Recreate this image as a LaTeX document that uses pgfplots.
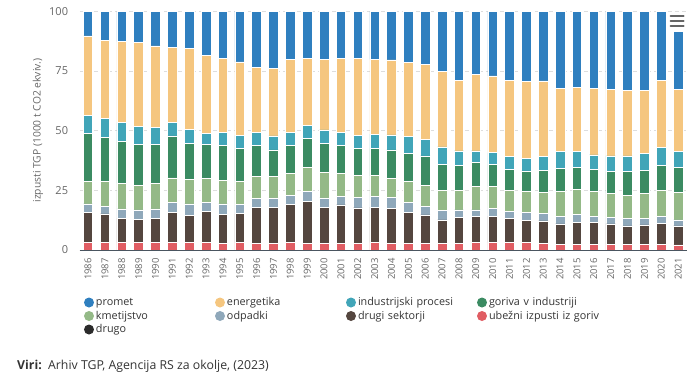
\documentclass[border=0pt]{standalone}
\usepackage{fontspec}
\setmainfont{Open Sans}
\usepackage{pgfplots}
\usepackage{pgfplotstable}
\pgfplotsset{compat=1.18}
\definecolor{cPromet}{HTML}{2F7FBF}
\definecolor{cEner}{HTML}{F5C67F}
\definecolor{cInd}{HTML}{41A5B8}
\definecolor{cGor}{HTML}{3B8B62}
\definecolor{cKmet}{HTML}{94B987}
\definecolor{cOdp}{HTML}{8FA8BA}
\definecolor{cDrugi}{HTML}{54463F}
\definecolor{cUbez}{HTML}{E05D63}
\definecolor{cDrugo}{HTML}{2B2B2B}
\definecolor{tickgray}{HTML}{666666}
\definecolor{legtext}{HTML}{333333}
\definecolor{gridgray}{HTML}{DDDDDD}
\definecolor{axisline}{HTML}{4A5560}

\pgfplotstableread{
year ubez drugi odp kmet gor ind ener prom
1986 3.2 12.6 3.5 9.6 19.8 7.7 33.3 10.3
1987 3.2 11.9 3.3 10.2 18.5 8.1 32.5 12.3
1988 3.2 10.1 3.9 10.7 17.6 7.9 33.9 12.7
1989 3.1 9.7 4.0 10.4 17.1 7.5 35.2 13.0
1990 3.2 9.9 4.1 10.6 16.3 7.4 34.0 14.5
1991 3.1 12.5 4.2 10.4 17.6 5.8 31.3 15.1
1992 3.1 11.3 4.9 10.4 14.9 5.8 34.2 15.4
1993 3.1 13.0 4.0 9.8 14.2 4.9 32.6 18.4
1994 2.8 12.1 4.4 10.0 14.4 5.6 30.9 19.8
1995 3.1 12.1 3.9 9.8 13.8 5.3 30.8 21.2
1996 2.8 15.1 3.7 9.4 12.7 5.5 27.3 23.5
1997 2.8 15.1 3.9 8.9 11.2 5.9 28.3 23.9
1998 3.1 15.9 4.0 9.1 11.6 5.5 30.5 20.3
1999 2.8 17.7 4.1 10.0 12.2 5.3 28.2 19.7
2000 2.8 14.9 4.1 10.6 12.3 5.6 29.6 20.1
2001 2.8 16.1 3.7 9.5 11.6 5.5 31.2 19.6
2002 2.8 14.8 4.5 9.0 11.6 5.3 32.4 19.6
2003 3.1 14.9 4.6 8.5 11.5 5.9 31.4 20.1
2004 2.8 14.7 4.4 8.1 11.9 6.3 31.4 20.4
2005 2.8 13.0 4.2 8.6 11.9 7.0 31.1 21.4
2006 2.8 11.9 3.7 8.8 12.2 7.0 31.4 22.2
2007 2.8 9.8 3.9 8.6 10.9 7.2 31.5 25.3
2008 2.8 10.7 3.3 8.3 10.5 5.9 29.7 28.8
2009 3.1 10.9 2.8 10.0 9.8 4.9 32.2 26.3
2010 3.1 11.1 3.3 9.0 9.4 4.9 32.1 27.1
2011 3.1 10.2 3.0 8.8 8.8 5.2 32.1 28.8
2012 3.1 9.2 3.3 8.8 8.7 5.3 32.1 29.5
2013 2.8 9.4 3.2 8.6 9.5 5.6 31.7 29.2
2014 2.4 8.5 3.3 10.2 9.8 7.0 26.5 32.3
2015 2.4 9.1 3.4 10.5 9.2 6.6 27.0 31.8
2016 2.4 9.1 2.7 10.5 9.1 6.0 27.9 32.3
2017 2.4 8.5 2.8 10.0 9.1 6.6 27.9 32.7
2018 2.4 7.7 3.2 9.7 9.8 6.6 27.6 33.0
2019 2.4 8.1 2.8 10.4 9.8 7.0 26.5 33.0
2020 2.4 8.8 3.0 10.9 10.5 7.3 28.3 28.8
2021 2.1 8.0 2.5 11.4 10.5 6.7 26.1 24.2
}\data

\begin{document}
\begin{tikzpicture}
\path[use as bounding box] (-79.6pt,-132pt) rectangle (620.4pt,250pt);
\begin{axis}[
  at={(0pt,0pt)}, anchor=south west,
  scale only axis, width=607pt, height=238.7pt,
  xmin=1985.5, xmax=2021.5, ymin=0, ymax=100,
  enlargelimits=false,
  ybar stacked, bar width=9.6pt,
  xtick={1986,...,2021},
  ytick={0,25,50,75,100},
  /pgf/number format/.cd, 1000 sep={}, assume math mode=true, /pgfplots/.cd,
  axis x line*=bottom, axis y line*=left,
  y axis line style={draw=none},
  x axis line style={draw=axisline, line width=0.9pt, -},
  ymajorgrids,
  grid style={draw=gridgray, dash pattern=on 4pt off 3pt, line width=0.8pt},
  major tick length=0pt,
  tick style={draw=none},
  xticklabel style={rotate=90, anchor=east, font=\fontsize{9.5}{10}\selectfont, text=tickgray, inner xsep=8pt},
  yticklabel style={font=\fontsize{11}{12}\selectfont, text=tickgray, xshift=-8pt},
  ylabel={izpusti TGP (1000 t CO2 ekviv.)},
  ylabel style={at={(axis description cs:-0.0685,0.5)}, anchor=center, font=\fontsize{10.3}{12}\selectfont, text=tickgray},
  every axis plot/.append style={draw=white, line width=0.7pt},
  legend columns=4,
  reverse legend,
  legend image code/.code={\fill[#1,draw=none] (0pt,0pt) circle (5pt);},
  legend style={at={(axis description cs:0.00725,-0.1917)}, anchor=north west,
    draw=none, fill=none, inner sep=0pt, outer sep=0pt,
    column sep=0pt, row sep=0pt,
    font=\fontsize{10.8}{12}\selectfont, text=legtext,
    /tikz/every even column/.append style={text width=117pt, align=left, inner xsep=7pt, inner ysep=1.5pt, text height=8pt, text depth=2.5pt}},
]
\addlegendimage{fill=cDrugo}
\addlegendentry{drugo}
\addplot[fill=cUbez] table[x=year,y=ubez]{\data};
\addlegendentry{ubežni izpusti iz goriv}
\addplot[fill=cDrugi] table[x=year,y=drugi]{\data};
\addlegendentry{drugi sektorji}
\addplot[fill=cOdp] table[x=year,y=odp]{\data};
\addlegendentry{odpadki}
\addplot[fill=cKmet] table[x=year,y=kmet]{\data};
\addlegendentry{kmetijstvo}
\addplot[fill=cGor] table[x=year,y=gor]{\data};
\addlegendentry{goriva v industriji}
\addplot[fill=cInd] table[x=year,y=ind]{\data};
\addlegendentry{industrijski procesi}
\addplot[fill=cEner] table[x=year,y=ener]{\data};
\addlegendentry{energetika}
\addplot[fill=cPromet] table[x=year,y=prom]{\data};
\addlegendentry{promet}
\end{axis}
% menu icon
\draw[tickgray, line width=2pt, line cap=round] (591pt,234.3pt) -- (604pt,234.3pt);
\draw[tickgray, line width=2pt, line cap=round] (591pt,229.3pt) -- (604pt,229.3pt);
\draw[tickgray, line width=2pt, line cap=round] (591pt,224.3pt) -- (604pt,224.3pt);
% source
\node[anchor=base west, inner sep=0pt, text=legtext, font=\fontsize{12.3}{14}\selectfont] at (-62.6pt,-119pt) {\textbf{Viri:}\ \ Arhiv TGP, Agencija RS za okolje, (2023)};
\end{tikzpicture}
\end{document}
